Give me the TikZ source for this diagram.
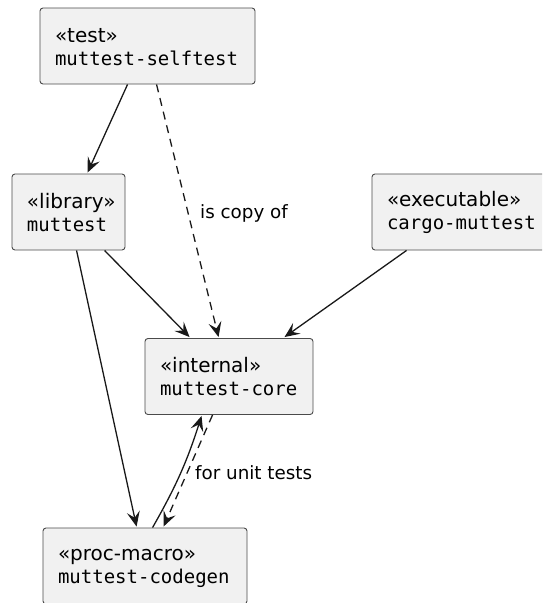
\documentclass[tikz,border=0pt]{standalone}
\usepackage{fontspec}
\setmainfont{DejaVu Sans}
\setmonofont{DejaVu Sans Mono}
\usetikzlibrary{arrows.meta,calc}

\definecolor{boxfill}{HTML}{F1F1F1}
\definecolor{boxline}{HTML}{4A4A4A}

% stereotype line and component name
\newcommand{\stereo}[1]{\rule{0pt}{17pt}{\fontsize{20}{23}\selectfont #1}}
\newcommand{\cname}[1]{{\ttfamily\fontsize{19}{23}\selectfont #1}\rule[-2pt]{0pt}{2pt}}

\tikzset{
  comp/.style={draw=boxline, fill=boxfill, line width=0.9pt, rounded corners=3pt,
    inner xsep=15pt, inner ysep=0pt, minimum height=76pt, align=left,
    font=\fontsize{20}{23}\selectfont},
  dep/.style={draw=black!90, line width=1.3pt,
    -{Stealth[length=15pt,width=13pt,inset=6pt]}},
  depdash/.style={dep, dash pattern=on 8pt off 6pt},
  edgelabel/.style={font=\fontsize{18.3}{22}\selectfont, inner sep=0pt, anchor=west}
}

\begin{document}
\begin{tikzpicture}[x=1pt, y=-1pt]
  \useasboundingbox (0,0) rectangle (542,603);
  \clip (0,0) rectangle (542,603);

  % components
  \node[comp, text width=185pt] (selftest) at (147.5,46)  {\stereo{«test»}\\\cname{muttest-selftest}};
  \node[comp, text width=83pt]  (library)  at (68.5,212)  {\stereo{«library»}\\\cname{muttest}};
  \node[comp, text width=147pt] (cargo)    at (460.5,212) {\stereo{«executable»}\\\cname{cargo-muttest}};
  \node[comp, text width=138pt] (core)     at (229,376.5) {\stereo{«internal»}\\\cname{muttest-core}};
  \node[comp, text width=174pt] (codegen)  at (145,566)   {\stereo{«proc-macro»}\\\cname{muttest-codegen}};

  % dependencies
  \draw[dep] ($(selftest.south west)+(88,0)$) -- ($(library.north west)+(76,-1)$);
  \draw[depdash] ($(selftest.south west)+(117,0)$) -- ($(core.north west)+(74,-1)$);
  \node[edgelabel] (copylabel) at (200,213) {is copy of};

  \draw[dep] ($(library.south west)+(93,0)$) -- ($(core.north west)+(45,-1)$);
  \draw[dep] ($(cargo.south west)+(35,0)$) -- ($(core.north west)+(140,-1)$);
  \draw[dep] ($(library.south west)+(65,0)$) -- ($(codegen.north west)+(94,-1)$);

  \draw[dep] ($(codegen.north west)+(110,0)$) to[bend right=6] ($(core.south west)+(57,1)$);
  \draw[depdash] ($(core.south west)+(68,0)$) -- ($(codegen.north west)+(121,-1)$);
  \node[edgelabel] (unitlabel) at (195,473) {for unit tests};
\end{tikzpicture}
\end{document}
